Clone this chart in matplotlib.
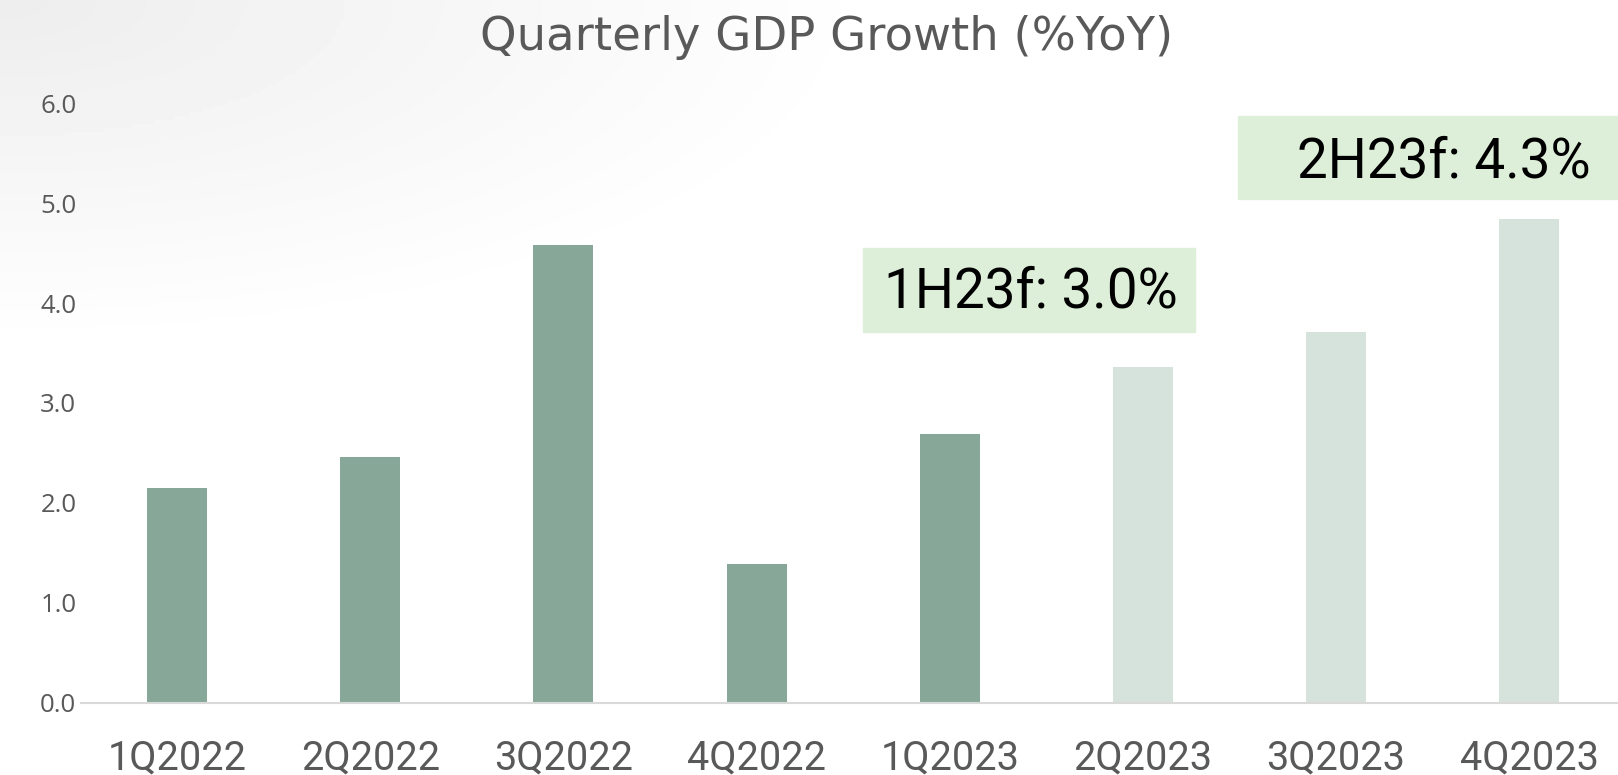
import numpy as np
import matplotlib
matplotlib.use("Agg")
import matplotlib.pyplot as plt
from matplotlib.patches import Rectangle

# data
quarters = ["1Q2022", "2Q2022", "3Q2022", "4Q2022", "1Q2023", "2Q2023", "3Q2023", "4Q2023"]
gdp_growth = [2.15, 2.46, 4.58, 1.39, 2.69, 3.36, 3.71, 4.84]
is_forecast = [False, False, False, False, False, True, True, True]
y_ticks = [0.0, 1.0, 2.0, 3.0, 4.0, 5.0, 6.0]
half_labels = ["1H23f: 3.0%", "2H23f: 4.3%"]

ACTUAL = "#87A898"
FORECAST = "#D6E2DC"
BOX = "#DDEFD9"
GREY = "#595959"

fig = plt.figure(figsize=(16.18, 7.75), dpi=100)

# faint grey wash in the top-left corner
bg = fig.add_axes([0, 0, 1, 1], zorder=-5)
gx, gy = np.meshgrid(np.linspace(0, 1, 400), np.linspace(0, 1, 200))
d = np.clip(1 - np.sqrt((gx / 0.55) ** 2 + (gy / 0.45) ** 2), 0, 1)
bg.imshow(1 - 0.07 * d, cmap="gray", vmin=0, vmax=1, aspect="auto", extent=[0, 1, 0, 1], origin="upper")
bg.axis("off")

ax = fig.add_axes([0.0498, 0.0933, 0.9502, 0.7735])
ax.patch.set_alpha(0)

x = np.arange(len(quarters))
colors = [FORECAST if f else ACTUAL for f in is_forecast]
ax.bar(x, gdp_growth, width=0.31, color=colors, zorder=2)

ax.set_xlim(-0.5, 7.46)
ax.set_ylim(0, 6)
ax.set_yticks(y_ticks)
ax.set_yticklabels([f"{v:.1f}" for v in y_ticks], fontsize=18.5, color=GREY, family="Open Sans")
ax.set_xticks(x)
ax.set_xticklabels(quarters, fontsize=28.5, color=GREY, family="Roboto")
ax.tick_params(axis="both", length=0)
ax.tick_params(axis="y", pad=3)
ax.tick_params(axis="x", pad=26)

for s in ["top", "right", "left"]:
    ax.spines[s].set_visible(False)
ax.spines["bottom"].set_color("#D9D9D9")
ax.spines["bottom"].set_linewidth(1.5)

# half-year forecast call-outs
ax.add_patch(Rectangle((3.55, 3.71), 1.72, 0.84, color=BOX, zorder=1, clip_on=False))
ax.text(3.66, 3.96, half_labels[0], fontsize=39.5, color="black", family="Roboto", va="baseline", ha="left", zorder=3)
ax.add_patch(Rectangle((5.49, 5.04), 2.2, 0.83, color=BOX, zorder=1, clip_on=False))
ax.text(5.80, 5.26, half_labels[1], fontsize=39.5, color="black", family="Roboto", va="baseline", ha="left", zorder=3)

fig.text(0.511, 0.936, "Quarterly GDP Growth (%YoY)", fontsize=33.5, color=GREY, family="DejaVu Sans",
         ha="center", va="baseline")

fig.savefig("out.png", dpi=100)
